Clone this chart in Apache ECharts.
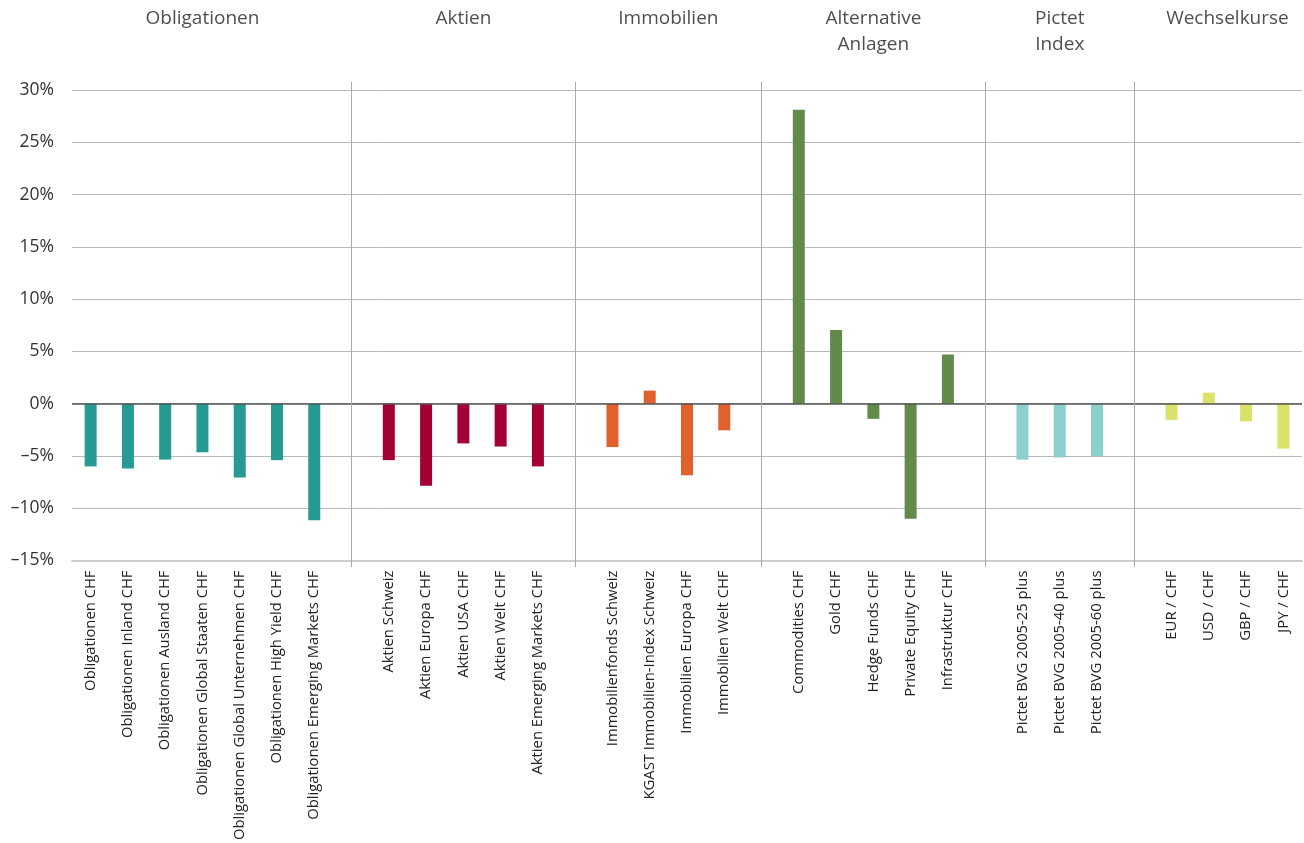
<!DOCTYPE html>
<html>
<head>
<meta charset="utf-8">
<script src="https://cdn.jsdelivr.net/npm/echarts@6/dist/echarts.min.js"></script>
<style>
  html, body { margin: 0; padding: 0; background: #fff; }
  #main { width: 1304px; height: 843px; }
</style>
</head>
<body>
<div id="main"></div>
<script>
// Gruppen
var groupTitles = ['Obligationen', 'Aktien', 'Immobilien', 'Alternative\nAnlagen', 'Pictet\nIndex', 'Wechselkurse'];
var groupColors = ['#269a93', '#a30034', '#e0612e', '#628a4a', '#8bd0cd', '#dbe26a'];

var oblNames = ['Obligationen CHF', 'Obligationen Inland CHF', 'Obligationen Ausland CHF', 'Obligationen Global Staaten CHF',
	'Obligationen Global Unternehmen CHF', 'Obligationen High Yield CHF', 'Obligationen Emerging Markets CHF'];
var oblValues = [-6.0, -6.2, -5.35, -4.65, -7.05, -5.4, -11.15];

var aktNames = ['Aktien Schweiz', 'Aktien Europa CHF', 'Aktien USA CHF', 'Aktien Welt CHF', 'Aktien Emerging Markets CHF'];
var aktValues = [-5.4, -7.85, -3.8, -4.1, -6.0];

var immoNames = ['Immobilienfonds Schweiz', 'KGAST Immobilien-Index Schweiz', 'Immobilien Europa CHF', 'Immobilien Welt CHF'];
var immoValues = [-4.15, 1.25, -6.85, -2.55];

var altNames = ['Commodities CHF', 'Gold CHF', 'Hedge Funds CHF', 'Private Equity CHF', 'Infrastruktur CHF'];
var altValues = [28.1, 7.05, -1.45, -11.0, 4.7];

var pictetNames = ['Pictet BVG 2005-25 plus', 'Pictet BVG 2005-40 plus', 'Pictet BVG 2005-60 plus'];
var pictetValues = [-5.35, -5.15, -5.0];

var fxNames = ['EUR / CHF', 'USD / CHF', 'GBP / CHF', 'JPY / CHF'];
var fxValues = [-1.55, 1.05, -1.7, -4.3];

var yTicks = [-15, -10, -5, 0, 5, 10, 15, 20, 25, 30];

var groupNames = [oblNames, aktNames, immoNames, altNames, pictetNames, fxNames];
var groupValues = [oblValues, aktValues, immoValues, altValues, pictetValues, fxValues];

// Kategorien mit Leerplatz zwischen den Gruppen
var categories = [];
var barData = [];
var dividers = [];
var titlePoints = [];
groupNames.forEach(function(names, g) {
	if (g > 0) {
		dividers.push(categories.length);
		categories.push('');
		barData.push('-');
	}
	var start = categories.length;
	names.forEach(function(n, i) {
		categories.push(n);
		barData.push({ value: groupValues[g][i], itemStyle: { color: groupColors[g] } });
	});
	var end = categories.length - 1;
	titlePoints.push({ value: [(start + end) / 2, 1], name: groupTitles[g] });
});
var nCat = categories.length;

var myChart = echarts.init(document.getElementById('main'));
var fontFam = '"Open Sans", "Lato", sans-serif';

var option = {
	animation: false,
	grid: [
		{ left: 72, right: 2, top: 90, bottom: 282 },
		{ left: 72, right: 2, top: 82, bottom: 276 },
		{ left: 72, right: 2, top: 6, height: 60 }
	],
	xAxis: [
		{
			type: 'category',
			gridIndex: 0,
			data: categories,
			axisTick: { show: false },
			axisLine: { onZero: false, lineStyle: { color: '#cccccc', width: 2 } },
			axisLabel: {
				interval: 0,
				rotate: 90,
				margin: 10,
				fontSize: 14.8,
				color: '#222',
				fontFamily: fontFam
			}
		},
		{ type: 'value', gridIndex: 1, min: -0.5, max: nCat - 0.5, show: false },
		{ type: 'value', gridIndex: 2, min: -0.5, max: nCat - 0.5, show: false }
	],
	yAxis: [
		{
			type: 'value',
			gridIndex: 0,
			min: yTicks[0],
			max: yTicks[yTicks.length - 1],
			interval: 5,
			axisLine: { show: false },
			axisTick: { show: false },
			splitLine: { lineStyle: { color: '#b8b8b8', width: 1 } },
			axisLabel: {
				margin: 18,
				fontSize: 17.5,
				color: '#333',
				fontFamily: fontFam,
				formatter: function(v) {
					return v < 0 ? '\u2013' + Math.abs(v) + '%' : v + '%';
				}
			}
		},
		{ type: 'value', gridIndex: 1, min: 0, max: 1, show: false },
		{ type: 'value', gridIndex: 2, min: 0, max: 1, show: false }
	],
	series: [
		{
			type: 'bar',
			xAxisIndex: 0,
			yAxisIndex: 0,
			barWidth: 12,
			data: barData,
			markLine: {
				silent: true,
				symbol: 'none',
				label: { show: false },
				lineStyle: { color: '#555555', width: 1.5, type: 'solid' },
				data: [{ yAxis: 0 }]
			},
			z: 3
		},
		{
			type: 'line',
			xAxisIndex: 1,
			yAxisIndex: 1,
			data: [],
			markLine: {
				silent: true,
				symbol: 'none',
				label: { show: false },
				lineStyle: { color: '#aaaaaa', width: 1, type: 'solid' },
				data: dividers.map(function(d) { return { xAxis: d }; })
			}
		},
		{
			type: 'scatter',
			xAxisIndex: 2,
			yAxisIndex: 2,
			symbolSize: 0,
			data: titlePoints,
			label: {
				show: true,
				position: 'bottom',
				distance: 0,
				formatter: '{b}',
				fontSize: 19,
				lineHeight: 26,
				align: 'center',
				color: '#222',
				fontFamily: fontFam
			}
		}
	]
};

myChart.setOption(option, true);
window.onresize = myChart.resize;
</script>
</body>
</html>
